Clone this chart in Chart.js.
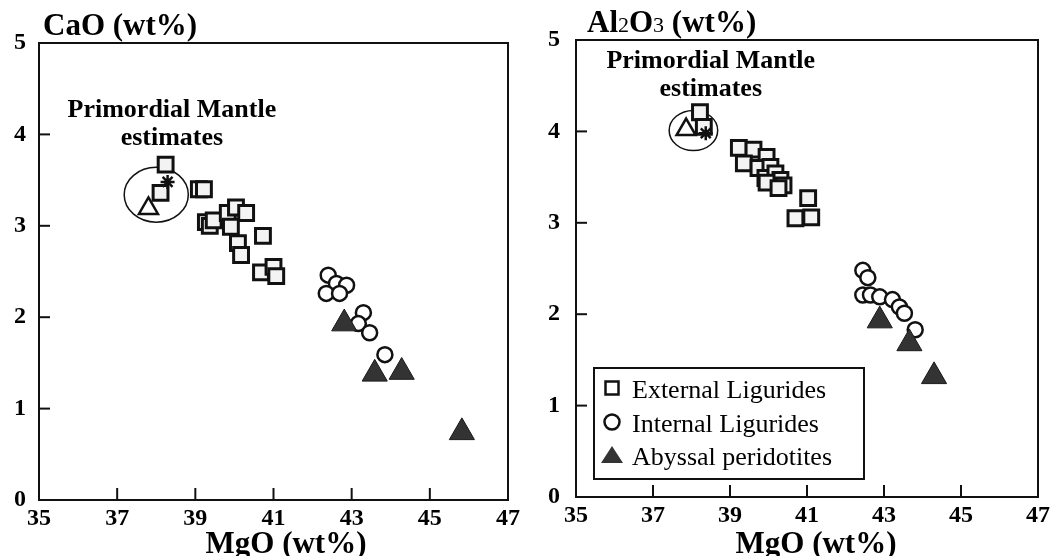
<!DOCTYPE html>
<html>
<head>
<meta charset="utf-8">
<script src="https://cdn.jsdelivr.net/npm/chart.js@4.4.0/dist/chart.umd.min.js"></script>
<style>
  body { margin: 0; background: #fff; }
  #wrap { position: relative; width: 1054px; height: 556px; }
  canvas { position: absolute; top: 0; }
</style>
</head>
<body>
<div id="wrap">
  <canvas id="caoChart" width="527" height="556" style="left:0"></canvas>
  <canvas id="alChart" width="527" height="556" style="left:527px"></canvas>
</div>
<script>
// Left panel: CaO vs MgO
const extMgO_ca = [38.24, 38.11, 39.09, 39.22, 39.27, 39.37, 39.47, 39.83, 40.04, 40.30, 39.91, 40.73, 40.09, 40.17, 40.68, 41.00, 41.07];
const extCaO    = [3.67, 3.36, 3.40, 3.40, 3.04, 3.00, 3.06, 3.14, 3.20, 3.14, 2.99, 2.89, 2.81, 2.68, 2.49, 2.55, 2.45];
const intMgO_ca = [42.40, 42.61, 42.87, 42.35, 42.69, 43.30, 43.17, 43.46, 43.85];
const intCaO    = [2.46, 2.37, 2.35, 2.26, 2.26, 2.05, 1.93, 1.83, 1.59];
const abyMgO_ca = [42.81, 43.59, 44.28, 45.82];
const abyCaO    = [1.93, 1.38, 1.40, 0.74];
const pmTriMgO_ca = [37.80];
const pmTriCaO    = [3.19];
const pmStarMgO_ca = [38.29];
const pmStarCaO    = [3.48];

// Right panel: Al2O3 vs MgO
const extMgO_al = [38.22, 38.32, 39.23, 39.61, 39.95, 39.36, 39.74, 40.05, 39.92, 40.18, 40.31, 39.95, 40.39, 40.26, 41.03, 40.70, 41.11];
const extAl2O3  = [4.21, 4.05, 3.82, 3.80, 3.72, 3.65, 3.60, 3.61, 3.49, 3.54, 3.47, 3.44, 3.41, 3.38, 3.27, 3.05, 3.06];
const intMgO_al = [42.45, 42.58, 42.45, 42.65, 42.89, 43.22, 43.40, 43.53, 43.81];
const intAl2O3  = [2.48, 2.40, 2.21, 2.21, 2.19, 2.16, 2.08, 2.01, 1.83];
const abyMgO_al = [42.89, 43.66, 44.30];
const abyAl2O3  = [1.93, 1.68, 1.32];
const pmTriMgO_al = [37.86];
const pmTriAl2O3  = [4.02];
const pmStarMgO_al = [38.37];
const pmStarAl2O3  = [3.98];

const groupNames = ['External Ligurides', 'Internal Ligurides', 'Abyssal peridotites'];
const mgoTicks = [35, 47, 2];   // min, max, step
const oxideTicks = [0, 5, 1];

const SERIF = '"Liberation Serif", "Times New Roman", serif';

function pts(xs, ys) {
  return xs.map((x, i) => ({ x: x, y: ys[i] }));
}

function makeDatasets(ext, int, aby, tri, star) {
  return [
    { label: groupNames[0], data: ext, pointStyle: 'rect', pointRadius: 10.5,
      backgroundColor: '#f3f3f3', borderColor: '#111', borderWidth: 3, order: 3 },
    { label: groupNames[1], data: int, pointStyle: 'circle', pointRadius: 7.5,
      backgroundColor: '#fff', borderColor: '#111', borderWidth: 2.5, order: 2 },
    { label: groupNames[2], data: aby, pointStyle: 'triangle', pointRadius: 14.5,
      backgroundColor: '#333', borderColor: '#1a1a1a', borderWidth: 1, order: 1 },
    { label: 'PM triangle', data: tri, pointStyle: 'triangle', pointRadius: 11,
      backgroundColor: 'rgba(255,255,255,0)', borderColor: '#111', borderWidth: 2.5, order: 0 },
    { label: 'PM star', data: star, pointStyle: 'star', pointRadius: 7,
      backgroundColor: '#111', borderColor: '#111', borderWidth: 2.5, order: 0 }
  ];
}

// frame, inner ticks, ellipse, axis titles, notes, legend
const framePlugin = {
  id: 'frame',
  beforeDatasetsDraw(chart, args, opts) {
    const { ctx, scales: { x, y } } = chart;
    const e = opts.ellipse;
    ctx.save();
    ctx.strokeStyle = '#111';
    ctx.lineWidth = 1.5;
    ctx.beginPath();
    const cx = x.getPixelForValue(e[0]), cy = y.getPixelForValue(e[1]);
    const rx = x.getPixelForValue(e[0] + e[2]) - cx;
    const ry = cy - y.getPixelForValue(e[1] + e[3]);
    ctx.ellipse(cx, cy, rx, ry, 0, 0, Math.PI * 2);
    ctx.stroke();
    ctx.restore();
  },
  afterDraw(chart, args, opts) {
    const { ctx, chartArea: a, scales: { x, y } } = chart;
    ctx.save();
    ctx.strokeStyle = '#111';
    ctx.lineWidth = 2;
    ctx.strokeRect(a.left, a.top, a.right - a.left, a.bottom - a.top);

    // ticks pointing inward
    x.ticks.forEach(t => {
      const px = x.getPixelForValue(t.value);
      if (t.value === x.min || t.value === x.max) return;
      ctx.beginPath();
      ctx.moveTo(px, a.bottom);
      ctx.lineTo(px, a.bottom - 12);
      ctx.stroke();
    });
    y.ticks.forEach(t => {
      const py = y.getPixelForValue(t.value);
      if (t.value === y.min || t.value === y.max) return;
      ctx.beginPath();
      ctx.moveTo(a.left, py);
      ctx.lineTo(a.left + 11, py);
      ctx.stroke();
    });

    // y axis title at top left
    ctx.fillStyle = '#000';
    ctx.textBaseline = 'alphabetic';
    ctx.textAlign = 'left';
    let tx = opts.titleX;
    opts.title.forEach(part => {
      ctx.font = part.font;
      ctx.fillText(part.text, tx, opts.titleY);
      tx += ctx.measureText(part.text).width;
    });

    // x axis title
    ctx.font = 'bold 31px ' + SERIF;
    ctx.textAlign = 'center';
    ctx.fillText('MgO (wt%)', opts.xTitleX, 553);

    // note
    ctx.font = 'bold 26px ' + SERIF;
    const nx = x.getPixelForValue(opts.note[0]);
    const ny = y.getPixelForValue(opts.note[1]);
    ctx.fillText('Primordial Mantle', nx, ny);
    ctx.fillText('estimates', nx, ny + 28);

    if (opts.legend) {
      const L = a.left + 18, B = a.bottom - 18, W = 270, H = 111, T = B - H;
      ctx.lineWidth = 2;
      ctx.strokeRect(L, T, W, H);
      const rows = [T + 20, T + 54, T + 87];
      const mx = L + 18;
      ctx.font = '26px ' + SERIF;
      ctx.textAlign = 'left';
      // square
      ctx.fillStyle = '#fff';
      ctx.lineWidth = 2.5;
      ctx.fillRect(mx - 6.5, rows[0] - 6.5, 13, 13);
      ctx.strokeRect(mx - 6.5, rows[0] - 6.5, 13, 13);
      // circle
      ctx.beginPath();
      ctx.arc(mx, rows[1], 7.5, 0, Math.PI * 2);
      ctx.stroke();
      // triangle
      ctx.fillStyle = '#333';
      ctx.beginPath();
      ctx.moveTo(mx, rows[2] - 9);
      ctx.lineTo(mx + 11, rows[2] + 8);
      ctx.lineTo(mx - 11, rows[2] + 8);
      ctx.closePath();
      ctx.fill();
      ctx.fillStyle = '#000';
      groupNames.forEach((n, i) => ctx.fillText(n, L + 38, rows[i] + 10));
    }
    ctx.restore();
  }
};

function makeOptions(yWidth, xHeight, pad, yTickPad, frameOpts) {
  return {
    responsive: false,
    animation: false,
    events: [],
    layout: { padding: pad },
    plugins: {
      legend: { display: false },
      tooltip: { enabled: false },
      frame: frameOpts
    },
    scales: {
      x: {
        type: 'linear',
        min: mgoTicks[0], max: mgoTicks[1],
        ticks: { stepSize: mgoTicks[2], padding: 4, color: '#000',
                 font: { family: SERIF, size: 24, weight: 'bold' } },
        grid: { display: false, drawTicks: false },
        border: { display: false },
        afterFit(scale) { scale.height = xHeight; }
      },
      y: {
        type: 'linear',
        min: oxideTicks[0], max: oxideTicks[1],
        ticks: { stepSize: oxideTicks[2], padding: yTickPad, color: '#000',
                 font: { family: SERIF, size: 24, weight: 'bold' } },
        grid: { display: false, drawTicks: false },
        border: { display: false },
        afterFit(scale) { scale.width = yWidth; }
      }
    }
  };
}

const caoChart = new Chart(document.getElementById('caoChart'), {
  type: 'scatter',
  data: {
    datasets: makeDatasets(
      pts(extMgO_ca, extCaO), pts(intMgO_ca, intCaO), pts(abyMgO_ca, abyCaO),
      pts(pmTriMgO_ca, pmTriCaO), pts(pmStarMgO_ca, pmStarCaO))
  },
  options: makeOptions(39, 56, { left: 0, top: 43, right: 19, bottom: 0 }, 13, {
    title: [{ text: 'CaO (wt%)', font: 'bold 31px ' + SERIF }],
    titleX: 43, titleY: 35,
    xTitleX: 286,
    note: [38.4, 4.19],
    ellipse: [38.0, 3.34, 0.82, 0.30],
    legend: false
  }),
  plugins: [framePlugin]
});

const alChart = new Chart(document.getElementById('alChart'), {
  type: 'scatter',
  data: {
    datasets: makeDatasets(
      pts(extMgO_al, extAl2O3), pts(intMgO_al, intAl2O3), pts(abyMgO_al, abyAl2O3),
      pts(pmTriMgO_al, pmTriAl2O3), pts(pmStarMgO_al, pmStarAl2O3))
  },
  options: makeOptions(49, 59, { left: 0, top: 40, right: 12, bottom: 0 }, 16, {
    title: [
      { text: 'Al', font: 'bold 31px ' + SERIF },
      { text: '2', font: '22px ' + SERIF },
      { text: 'O', font: 'bold 31px ' + SERIF },
      { text: '3', font: '22px ' + SERIF },
      { text: ' (wt%)', font: 'bold 31px ' + SERIF }
    ],
    titleX: 60, titleY: 32,
    xTitleX: 289,
    note: [38.5, 4.69],
    ellipse: [38.05, 4.01, 0.63, 0.22],
    legend: true
  }),
  plugins: [framePlugin]
});
</script>
</body>
</html>
